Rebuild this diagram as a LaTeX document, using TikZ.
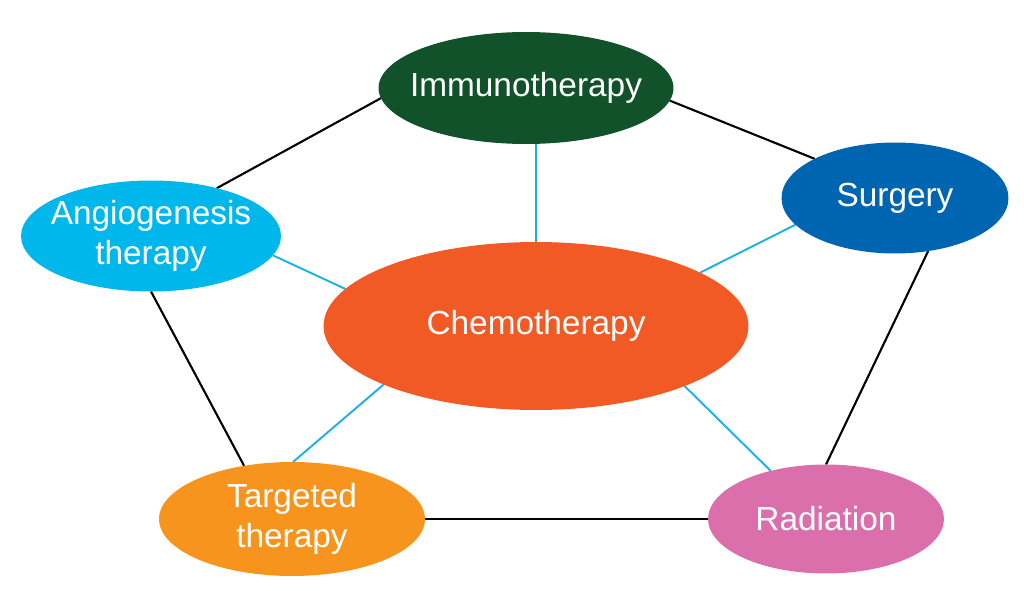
\documentclass[tikz,border=0pt]{standalone}
\usepackage{fontspec}
\setmainfont{Liberation Sans}
\usetikzlibrary{shapes.geometric,backgrounds}

\definecolor{immunogreen}{HTML}{11522B}
\definecolor{surgeryblue}{HTML}{0065B1}
\definecolor{angioblue}{HTML}{00B7EC}
\definecolor{chemoorange}{HTML}{F15A24}
\definecolor{targetorange}{HTML}{F7941D}
\definecolor{radiationpink}{HTML}{DA6FAC}
\definecolor{chemocyan}{HTML}{1FB1E6}

% zero-width line, so the ellipse keeps its own size
\newcommand{\tline}[1]{\makebox[0pt]{#1}}

\tikzset{
  therapy/.style={ellipse, inner sep=0pt, outer sep=0pt, text=white,
    align=center, font=\fontsize{19}{23}\selectfont},
  ring/.style={draw=black, line width=1.2pt},
  spoke/.style={draw=chemocyan, line width=1.1pt}
}

\begin{document}
\begin{tikzpicture}[x=0.02cm, y=-0.02cm]
\useasboundingbox (0,0) rectangle (1024,591);

\node[therapy, fill=immunogreen, minimum width=5.9cm, minimum height=2.24cm] (immuno) at (526,88) {\tline{Immunotherapy}};
\node[therapy, fill=surgeryblue, minimum width=4.54cm, minimum height=2.22cm] (surgery) at (895,198) {\tline{Surgery}};
\node[therapy, fill=angioblue, minimum width=5.2cm, minimum height=2.22cm] (angio) at (151,236) {\tline{Angiogenesis}\\\tline{therapy}};
\node[therapy, fill=chemoorange, minimum width=8.5cm, minimum height=3.36cm] (chemo) at (536,326) {\tline{Chemotherapy}};
\node[therapy, fill=targetorange, minimum width=5.32cm, minimum height=2.28cm] (targeted) at (292,519) {\tline{Targeted}\\\tline{therapy}};
\node[therapy, fill=radiationpink, minimum width=4.72cm, minimum height=2.18cm] (radiation) at (826,519) {\tline{Radiation}};

\begin{pgfonlayer}{background}
% outer ring
\draw[ring] (immuno.184) -- (angio.36);
\draw[ring] (immuno.355) -- (surgery.154);
\draw[ring] (surgery.302) -- (radiation.90);
\draw[ring] (angio.270) -- (targeted.132);
\draw[ring] (targeted.east) -- (radiation.west);

% spokes from chemotherapy
\draw[spoke] (chemo.north) -- (chemo.north |- immuno.south);
\draw[spoke] (chemo.169) -- (angio.351);
\draw[spoke] (chemo.18) -- (surgery.195);
\draw[spoke] (chemo.201) -- (targeted.89);
\draw[spoke] (chemo.338) -- (radiation.139);
\end{pgfonlayer}
\end{tikzpicture}
\end{document}
